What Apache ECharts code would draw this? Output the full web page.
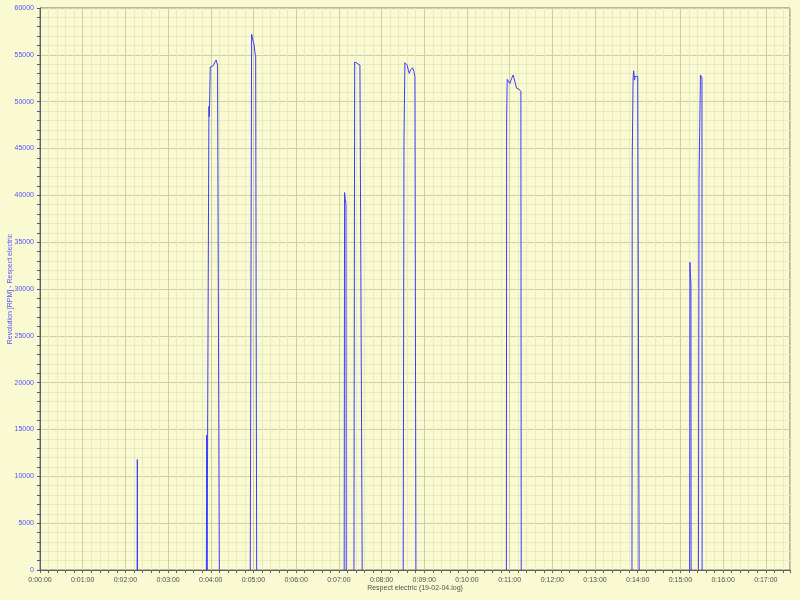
<!DOCTYPE html>
<html>
<head>
<meta charset="utf-8">
<script src="https://cdn.jsdelivr.net/npm/echarts@6/dist/echarts.min.js"></script>
<style>
html,body{margin:0;padding:0;background:#fafad2;}
#c{width:800px;height:600px;}
</style>
</head>
<body>
<div id="c"></div>
<script>
// Time in seconds since log start; null rpm marks a gap between runs
const timeSec = [
  0, 10,
  136.5, 136.8, 137.1, 140,
  233.8, 234.3, 234.8, 236.5, 237.4, 238.0, 239.3, 241, 243, 245, 247.5, 249.5, 251.7, 252.0, 260,
  295.5, 297.4, 298.5, 301.1, 302.1, 303.1, 304.3, 304.5, 310,
  427.5, 428.0, 429.0, 430.0, 430.4, 435,
  441.2, 442.2, 444.0, 445.8, 448.2, 449.6, 450.6, 452.0, 452.8, 460,
  510.4, 511.5, 512.8, 514.0, 516.1, 517.5, 518.9, 520.8, 523.7, 525.5, 526.9, 528.1, 528.3, 540,
  655.4, 655.8, 656.6, 659.4, 660.4, 662.8, 665.0, 667.4, 669.8, 672.0, 673.4, 674.4, 675.8, 676.3, 690,
  831.9, 832.3, 833.5, 834.3, 835.0, 835.5, 836.4, 838.0, 840.0, 841.8, 842.0, 850,
  913.0, 913.4, 914.0, 914.8, 915.0, 920,
  925.3, 926.2, 928.2, 929.0, 930.3, 930.5
];
const rpm = [
  0, null,
  0, 11800, 0, null,
  0, 14400, 0, 0, 49500, 48400, 53700, 53800, 53800, 54000, 54450, 53900, 53800, 0, null,
  0, 57200, 56800, 56000, 55200, 54900, 54800, 0, null,
  0, 40300, 39600, 39000, 0, null,
  0, 54230, 54330, 54080, 54100, 53900, 54000, 53750, 0, null,
  0, 45700, 54160, 54250, 53900, 53380, 53020, 53380, 53630, 53200, 52670, 52600, 0, null,
  0, 48400, 52380, 52240, 51950, 52490, 52850, 52130, 51420, 51530, 51320, 51170, 51070, 0, null,
  0, 43800, 52500, 53300, 53100, 52300, 52700, 52800, 52700, 52750, 0, null,
  0, 32850, 31500, 30600, 0, null,
  0, 42000, 52850, 52950, 52500, 0
];
const xMax = 1054;
const yMax = 60000;

const seriesData = timeSec.map((t, i) => rpm[i] === null ? [t, '-'] : [t, rpm[i]]);

function fmtTime(v) {
  const h = Math.floor(v / 3600);
  const m = Math.floor((v % 3600) / 60);
  const s = Math.round(v % 60);
  return h + ':' + String(m).padStart(2, '0') + ':' + String(s).padStart(2, '0');
}

const chart = echarts.init(document.getElementById('c'), null, {renderer: 'canvas'});
chart.setOption({
  backgroundColor: '#fafad2',
  animation: false,
  textStyle: {fontFamily: 'Liberation Sans, Arial, sans-serif'},
  grid: {
    left: 40, right: 10, top: 8, bottom: 30,
    containLabel: false, outerBoundsMode: 'none',
    show: true, backgroundColor: '#fafad2', borderColor: '#707070', borderWidth: 1
  },
  xAxis: {
    type: 'value', min: 0, max: xMax, interval: 60,
    name: 'Respect electric (19-02-04.log)', nameLocation: 'middle', nameGap: 15,
    nameMoveOverlap: false,
    nameTextStyle: {color: '#505050', fontSize: 7},
    axisLine: {show: true, lineStyle: {color: '#606060', width: 1}},
    axisTick: {show: true, length: 3, lineStyle: {color: '#606060'}},
    minorTick: {show: true, splitNumber: 5, length: 3, lineStyle: {color: '#606060'}},
    axisLabel: {color: '#505050', fontSize: 7, margin: 7, formatter: fmtTime, showMaxLabel: false},
    splitLine: {show: true, lineStyle: {color: '#cdcda6', width: 1}},
    minorSplitLine: {show: true, lineStyle: {color: '#e9e9c2', width: 1}}
  },
  yAxis: {
    type: 'value', min: 0, max: yMax, interval: 5000,
    name: 'Revolution [RPM] - Respect electric', nameLocation: 'middle', nameGap: 26,
    nameMoveOverlap: false,
    nameTextStyle: {color: '#5050ff', fontSize: 7},
    axisLine: {show: true, lineStyle: {color: '#606060', width: 1}},
    axisTick: {show: true, length: 3, lineStyle: {color: '#5050a0'}},
    minorTick: {show: true, splitNumber: 5, length: 3, lineStyle: {color: '#5050a0'}},
    axisLabel: {color: '#5050ff', fontSize: 7, margin: 6, formatter: v => String(v)},
    splitLine: {show: true, lineStyle: {color: '#cdcda6', width: 1}},
    minorSplitLine: {show: true, lineStyle: {color: '#e9e9c2', width: 1}}
  },
  series: [{
    type: 'line',
    data: seriesData,
    showSymbol: false,
    connectNulls: false,
    lineStyle: {color: '#3c3cff', width: 1},
    itemStyle: {color: '#3c3cff'}
  }]
});
</script>
</body>
</html>
